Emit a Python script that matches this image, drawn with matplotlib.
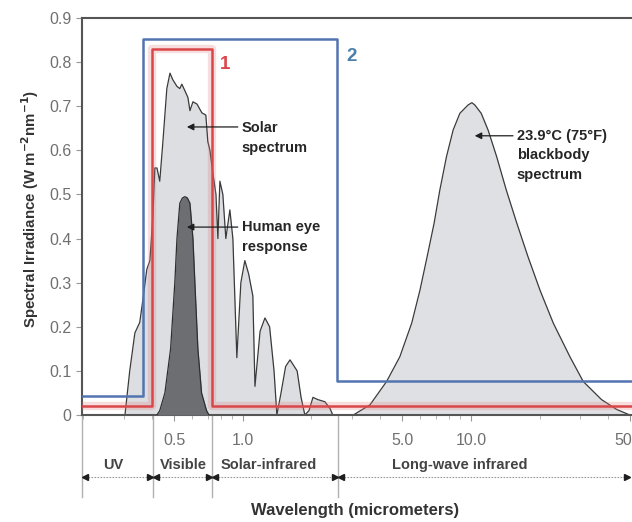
import numpy as np
import matplotlib.pyplot as plt
import matplotlib.ticker as mticker
from matplotlib.transforms import blended_transform_factory, offset_copy

plt.rcParams['font.family'] = ['Liberation Sans', 'DejaVu Sans']

# solar spectrum (wavelength in micrometers, irradiance)
solar_wl = [0.304, 0.319, 0.336, 0.353, 0.364, 0.379, 0.391, 0.403, 0.411, 0.420,
            0.432, 0.446, 0.464, 0.479, 0.493, 0.514, 0.529, 0.540, 0.557, 0.574,
            0.586, 0.604, 0.629, 0.661, 0.688, 0.702, 0.717, 0.738, 0.762, 0.777,
            0.793, 0.817, 0.842, 0.877, 0.904, 0.941, 0.980, 1.02, 1.06, 1.106,
            1.13, 1.19, 1.25, 1.31, 1.37, 1.41, 1.47, 1.54, 1.61, 1.73,
            1.80, 1.87, 1.95, 2.03, 2.13, 2.29, 2.41, 2.48]
solar_val = [0.0, 0.10, 0.186, 0.21, 0.26, 0.33, 0.35, 0.45, 0.56, 0.56,
             0.53, 0.62, 0.74, 0.775, 0.76, 0.745, 0.74, 0.75, 0.735, 0.72,
             0.69, 0.71, 0.705, 0.685, 0.68, 0.62, 0.60, 0.55, 0.50, 0.40,
             0.53, 0.50, 0.40, 0.465, 0.40, 0.13, 0.30, 0.35, 0.32, 0.27,
             0.065, 0.19, 0.22, 0.20, 0.10, 0.0, 0.05, 0.11, 0.125, 0.10,
             0.04, 0.0, 0.01, 0.04, 0.035, 0.03, 0.015, 0.0]

# human eye response
eye_wl = [0.420, 0.432, 0.455, 0.482, 0.503, 0.514, 0.529, 0.543, 0.557, 0.571,
          0.586, 0.604, 0.616, 0.635, 0.659, 0.693, 0.710]
eye_val = [0.0, 0.01, 0.05, 0.15, 0.30, 0.40, 0.48, 0.492, 0.495, 0.492,
           0.48, 0.40, 0.30, 0.15, 0.05, 0.01, 0.0]

# 23.9 C blackbody spectrum
bb_wl = [3.05, 3.61, 4.27, 4.88, 5.50, 5.98, 6.43, 6.90, 7.31, 7.82,
         8.36, 8.95, 9.73, 10.1, 10.4, 11.1, 11.9, 12.97, 14.3, 15.9,
         17.8, 20.1, 23.0, 27.2, 31.1, 37.4, 43.6, 49.8]
bb_val = [0.0, 0.023, 0.076, 0.132, 0.208, 0.283, 0.359, 0.435, 0.51, 0.586,
          0.646, 0.684, 0.703, 0.708, 0.703, 0.684, 0.646, 0.586, 0.51, 0.435,
          0.359, 0.283, 0.208, 0.132, 0.076, 0.035, 0.0126, 0.0]

# the two filter profiles "1" and "2"
red_edges = [0.40, 0.731]
red_levels = [0.02, 0.83, 0.02]
blue_edges = [0.364, 2.58]
blue_levels = [0.043, 0.853, 0.077]

region_names = ['UV', 'Visible', 'Solar-infrared', 'Long-wave infrared']
region_bounds = [0.197, 0.403, 0.731, 2.61, 50.0]
region_label_x = [0.27, 0.546, 1.30, 8.95]

x_ticks = [0.5, 1.0, 5.0, 10.0, 50.0]
x_ticklabels = ['0.5', '1.0', '5.0', '10.0', '50.0']
y_ticks = [0, 0.1, 0.2, 0.3, 0.4, 0.5, 0.6, 0.7, 0.8, 0.9]
y_ticklabels = ['0', '0.1', '0.2', '0.3', '0.4', '0.5', '0.6', '0.7', '0.8', '0.9']

xmin, xmax = 0.197, 50.9

fig = plt.figure(figsize=(6.32, 5.22), dpi=100)
ax = fig.add_axes([82 / 632, 107 / 522, 1 - 82 / 632, 397 / 522])
ax.set_xscale('log')
ax.set_xlim(xmin, xmax)
ax.set_ylim(0, 0.9)

# spectra
ax.fill_between(solar_wl, solar_val, color='#dcdee2', lw=0, zorder=1)
ax.plot(solar_wl, solar_val, color='#3a3a3a', lw=0.9, zorder=2)
ax.fill_between(eye_wl, eye_val, color='#6d6e71', lw=0, zorder=3)
ax.plot(eye_wl, eye_val, color='#2e2e2e', lw=0.9, zorder=3)
ax.fill_between(bb_wl, bb_val, color='#dfe0e4', lw=0, zorder=1)
ax.plot(bb_wl, bb_val, color='#3a3a3a', lw=0.9, zorder=2)

# step profiles
rx = [xmin, red_edges[0], red_edges[0], red_edges[1], red_edges[1], xmax]
ry = [red_levels[0], red_levels[0], red_levels[1], red_levels[1], red_levels[2], red_levels[2]]
bx = [xmin, blue_edges[0], blue_edges[0], blue_edges[1], blue_edges[1], xmax]
by = [blue_levels[0], blue_levels[0], blue_levels[1], blue_levels[1], blue_levels[2], blue_levels[2]]
ax.plot(rx, ry, color='#e07a78', lw=6, alpha=0.25, zorder=4)
ax.plot(bx, by, color='#5274b0', lw=1.8, zorder=5)
ax.plot(rx, ry, color='#d9474a', lw=1.8, zorder=5)

ax.text(0.834, 0.794, '1', color='#d9474a', fontsize=13.5, fontweight='bold',
        ha='center', va='center')
ax.text(3.0, 0.812, '2', color='#4a80ac', fontsize=13.5, fontweight='bold',
        ha='center', va='center')

# annotations
arrow = dict(arrowstyle='-|>', color='#1e1e1e', lw=0.9, mutation_scale=10,
             shrinkA=0, shrinkB=0)
txt = dict(fontsize=10.5, fontweight='bold', color='#262626', ha='left', va='center')
ax.annotate('', xy=(0.568, 0.653), xytext=(0.95, 0.653), arrowprops=arrow, zorder=6)
ax.text(0.99, 0.651, 'Solar', **txt)
ax.text(0.99, 0.606, 'spectrum', **txt)
ax.annotate('', xy=(0.568, 0.426), xytext=(0.95, 0.426), arrowprops=arrow, zorder=6)
ax.text(0.99, 0.426, 'Human eye', **txt)
ax.text(0.99, 0.381, 'response', **txt)
ax.annotate('', xy=(10.4, 0.633), xytext=(15.3, 0.633), arrowprops=arrow, zorder=6)
ax.text(15.9, 0.633, '23.9°C (75°F)', **txt)
ax.text(15.9, 0.589, 'blackbody', **txt)
ax.text(15.9, 0.544, 'spectrum', **txt)

# axes styling
ax.set_xticks(x_ticks)
ax.set_xticklabels(x_ticklabels)
ax.xaxis.set_minor_locator(mticker.LogLocator(base=10, subs=np.arange(2, 10)))
ax.xaxis.set_minor_formatter(mticker.NullFormatter())
ax.set_yticks(y_ticks)
ax.set_yticklabels(y_ticklabels)
ax.tick_params(axis='both', which='major', direction='out', length=4, color='#999',
               labelcolor='#707070', labelsize=11.5)
ax.tick_params(axis='x', which='major', pad=9)
ax.tick_params(axis='x', which='minor', length=3, color='#aaa')
for side in ['left', 'bottom', 'top']:
    ax.spines[side].set_color('#555')
    ax.spines[side].set_linewidth(1.5)
ax.spines['right'].set_visible(False)

# spectral regions under the axis
tr = blended_transform_factory(ax.transData, ax.transAxes)
tr_right = offset_copy(tr, fig=fig, x=3, units='dots')
tr_left = offset_copy(tr, fig=fig, x=-3, units='dots')
for b in region_bounds[:-1]:
    ax.plot([b, b], [0, -0.207], transform=tr, color='#b0b0b0', lw=1, clip_on=False)
for i, name in enumerate(region_names):
    a, b = region_bounds[i], region_bounds[i + 1]
    ax.plot([a, b], [-0.156, -0.156], transform=tr, color='#9a9a9a', lw=0.8,
            ls=(0, (1.5, 1.2)), clip_on=False)
    ax.plot([a], [-0.156], transform=tr_right, marker='<', ms=5, color='#1e1e1e',
            clip_on=False)
    ax.plot([b], [-0.156], transform=tr_left, marker='>', ms=5, color='#1e1e1e',
            clip_on=False)
    ax.text(region_label_x[i], -0.126, name, transform=tr, ha='center', va='center',
            fontsize=10.5, fontweight='bold', color='#444')

fig.text(355 / 632, 11 / 522, 'Wavelength (micrometers)', ha='center', va='center',
         fontsize=12, fontweight='bold', color='#333')
fig.text(30 / 632, 0.60, 'Spectral Irradiance (W m$^{\\mathbf{-2}}$nm$^{\\mathbf{-1}}$)',
         rotation=90, ha='center', va='center', fontsize=10.8, fontweight='bold',
         color='#333')

fig.savefig('out.png', dpi=100)
